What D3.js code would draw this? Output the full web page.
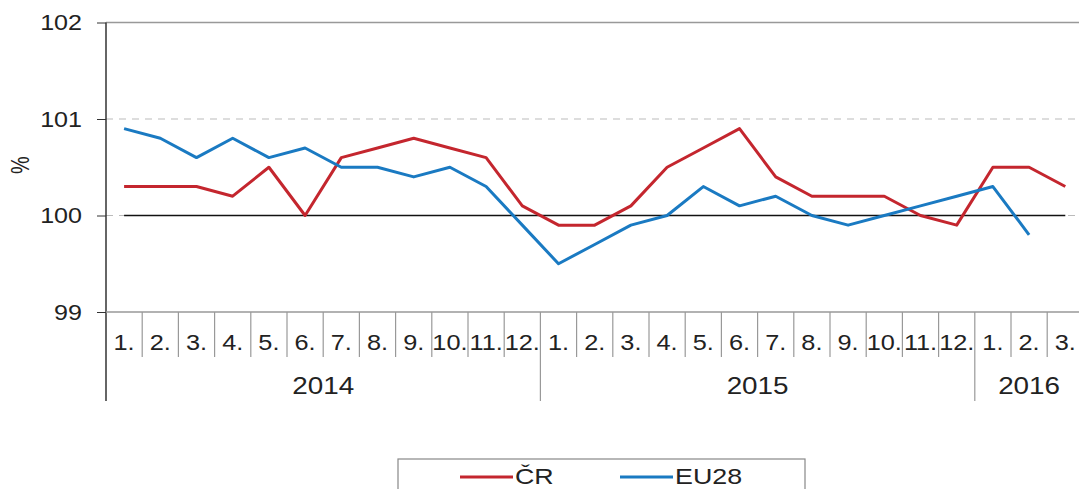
<!DOCTYPE html>
<html>
<head>
<meta charset="utf-8">
<script src="https://cdn.jsdelivr.net/npm/d3@7"></script>
<style>
  body { margin: 0; background: #fff; }
  svg { display: block; font-family: "Liberation Sans", Arial, sans-serif; }
</style>
</head>
<body>
<svg width="1079" height="489"></svg>
<script>
// data
const years = ["2014", "2015", "2016"];
const monthsPerYear = [12, 12, 3];
const monthLabels = ["1.", "2.", "3.", "4.", "5.", "6.", "7.", "8.", "9.", "10.", "11.", "12."];
const cr = [100.3, 100.3, 100.3, 100.2, 100.5, 100.0, 100.6, 100.7, 100.8, 100.7, 100.6, 100.1,
            99.9, 99.9, 100.1, 100.5, 100.7, 100.9, 100.4, 100.2, 100.2, 100.2, 100.0, 99.9,
            100.5, 100.5, 100.3];
const eu28 = [100.9, 100.8, 100.6, 100.8, 100.6, 100.7, 100.5, 100.5, 100.4, 100.5, 100.3, 99.9,
              99.5, 99.7, 99.9, 100.0, 100.3, 100.1, 100.2, 100.0, 99.9, 100.0, 100.1, 100.2,
              100.3, 99.8];
const yTicks = [99, 100, 101, 102];
const baseValue = 100;
const seriesNames = ["ČR", "EU28"];
const colors = ["#c4262e", "#1a7ac2"];

const svg = d3.select("svg");

// the source image is a bit stretched sideways, so texts get a horizontal scale
const addText = (parent, px, py, txt, size, sx, anchor) =>
	parent.append("text")
		.attr("transform", `translate(${px},${py}) scale(${sx},1)`)
		.attr("text-anchor", anchor || "start")
		.attr("font-size", size).attr("fill", "#222")
		.text(txt);

// build category list (year + month)
const cats = [];
years.forEach((yr, i) => {
	for (let m = 0; m < monthsPerYear[i]; m++) cats.push({ key: yr + "-" + (m + 1), year: yr, label: monthLabels[m] });
});

const plotLeft = 106, plotTop = 22.5, plotBottom = 312;
const step = 36.2;

const x = d3.scaleBand()
	.domain(cats.map(d => d.key))
	.range([plotLeft, plotLeft + cats.length * step])
	.padding(0);
const cx = i => x(cats[i].key) + x.bandwidth() / 2;

const y = d3.scaleLinear().domain([99, 102]).range([plotBottom, plotTop]);

// gridlines
svg.append("g").selectAll("line").data(yTicks.filter(t => t !== 99))
	.enter().append("line")
		.attr("x1", plotLeft).attr("x2", 1079)
		.attr("y1", d => y(d)).attr("y2", d => y(d))
		.attr("stroke", d => d === 102 ? "#999" : "#bbb")
		.attr("stroke-width", d => d === 102 ? 1.5 : 1)
		.attr("stroke-dasharray", d => d === 102 ? null : "7,6");

// 100 reference line
svg.append("line")
	.attr("x1", cx(0)).attr("x2", cx(cats.length - 1))
	.attr("y1", y(baseValue)).attr("y2", y(baseValue))
	.attr("stroke", "#111").attr("stroke-width", 1.5);

// y axis
const yAxis = d3.axisLeft(y).tickValues(yTicks).tickSize(9).tickPadding(15).tickFormat(d3.format("d"));
const yg = svg.append("g").attr("transform", `translate(${plotLeft},0)`).call(yAxis);
yg.select(".domain").remove();
yg.selectAll(".tick line").attr("stroke", "#333");
yg.selectAll(".tick text")
	.attr("font-size", 22).attr("fill", "#222").attr("font-family", "Liberation Sans, Arial")
	.attr("x", 0)
	.attr("transform", "translate(-24,0) scale(1.14,1)");
svg.append("line").attr("x1", plotLeft).attr("x2", plotLeft).attr("y1", plotTop).attr("y2", 401)
	.attr("stroke", "#333").attr("stroke-width", 1.5);

svg.append("text")
	.attr("transform", "translate(29,165) rotate(-90) scale(1,1.3)")
	.attr("text-anchor", "middle")
	.attr("font-size", 20).attr("fill", "#222")
	.text("%");

// x axis (two levels)
svg.append("line").attr("x1", plotLeft).attr("x2", 1079).attr("y1", plotBottom).attr("y2", plotBottom)
	.attr("stroke", "#999").attr("stroke-width", 1.5);

const xg = svg.append("g");
cats.forEach((c, i) => {
	if (i > 0) {
		const yearStart = c.label === "1.";
		xg.append("line")
			.attr("x1", x(c.key)).attr("x2", x(c.key))
			.attr("y1", plotBottom).attr("y2", yearStart ? 401 : 357)
			.attr("stroke", "#999").attr("stroke-width", 1.2);
	}
	addText(xg, cx(i), 350, c.label, 22, 1.15, "middle");
});

let start = 0;
years.forEach((yr, i) => {
	const n = monthsPerYear[i];
	const mid = (x(cats[start].key) + x(cats[start + n - 1].key) + x.bandwidth()) / 2;
	addText(xg, mid, 394, yr, 24, 1.16, "middle");
	start += n;
});

// series lines
const line = d3.line().x((d, i) => cx(i)).y(d => y(d));
[cr, eu28].forEach((s, k) => {
	svg.append("path")
		.datum(s)
		.attr("d", line)
		.attr("fill", "none")
		.attr("stroke", colors[k])
		.attr("stroke-width", 3)
		.attr("stroke-linejoin", "round");
});

// legend
const lg = svg.append("g");
lg.append("rect").attr("x", 398).attr("y", 459).attr("width", 407).attr("height", 60)
	.attr("fill", "#fff").attr("stroke", "#888").attr("stroke-width", 1.2);
const legendX = [460, 620];
seriesNames.forEach((name, k) => {
	lg.append("line").attr("x1", legendX[k]).attr("x2", legendX[k] + 53)
		.attr("y1", 477).attr("y2", 477)
		.attr("stroke", colors[k]).attr("stroke-width", 3);
	addText(lg, legendX[k] + 55, 484, name, 22, 1.22);
});
</script>
</body>
</html>
